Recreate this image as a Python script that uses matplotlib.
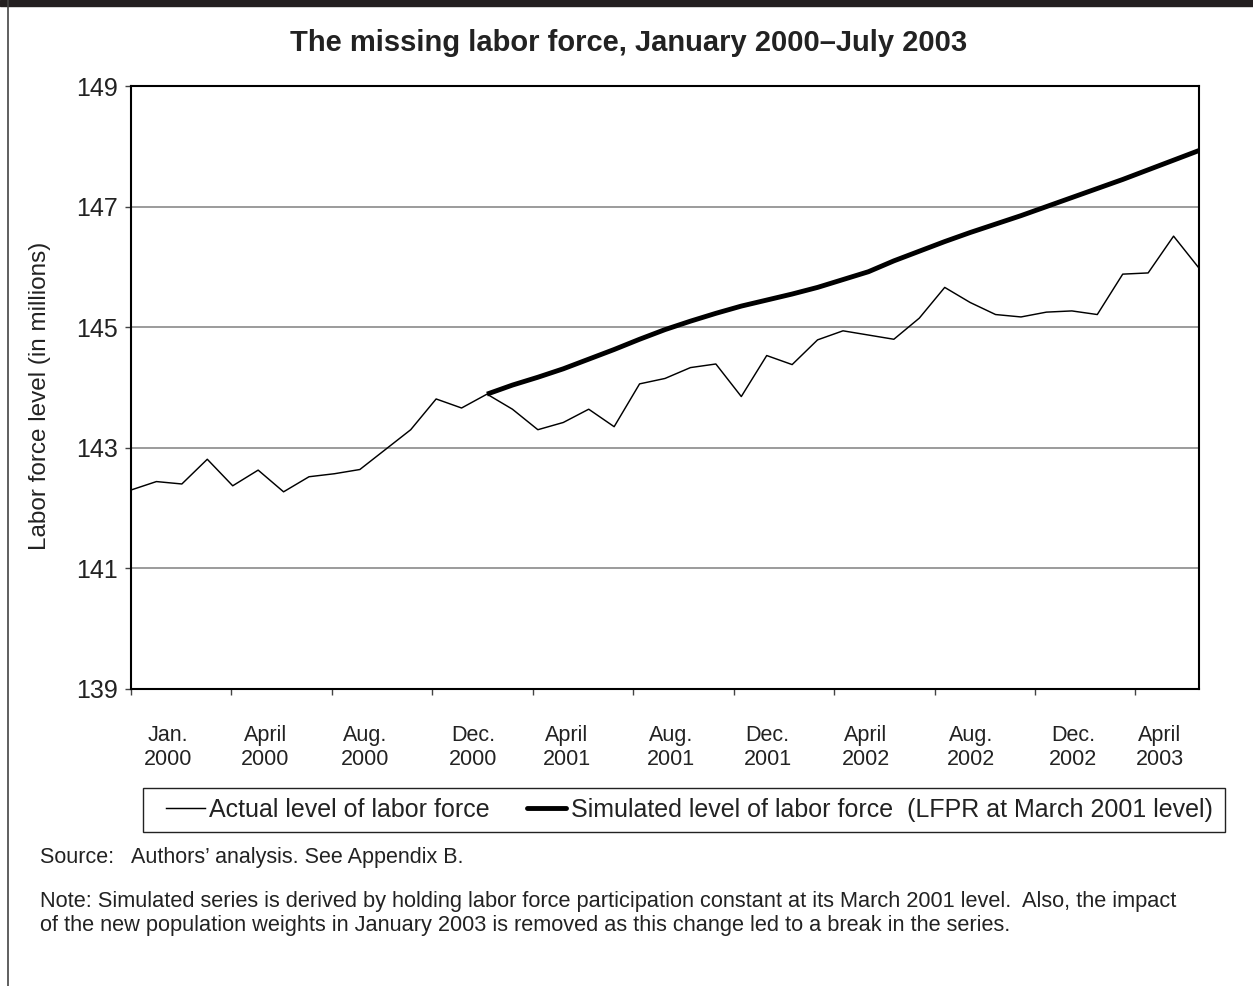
import matplotlib
matplotlib.use("Agg")
import matplotlib.pyplot as plt
from matplotlib.lines import Line2D
import numpy as np
import pandas as pd

plt.rcParams['font.family'] = ['Liberation Sans', 'DejaVu Sans']

# ---- data ----
months = pd.date_range('2000-01-01', periods=43, freq='MS')
actual = [142.30, 142.44, 142.40, 142.81, 142.37, 142.63, 142.27, 142.52, 142.57, 142.64,
          142.97, 143.30, 143.81, 143.66, 143.89, 143.64, 143.30, 143.42, 143.64, 143.35,
          144.06, 144.15, 144.33, 144.39, 143.85, 144.53, 144.38, 144.79, 144.94, 144.87,
          144.80, 145.15, 145.66, 145.41, 145.21, 145.17, 145.25, 145.27, 145.21, 145.88,
          145.90, 146.51, 145.98]
# simulated series starts March 2001 (index 14)
sim_start = 14
simulated = [143.89, 144.04, 144.17, 144.31, 144.47, 144.63, 144.80, 144.96, 145.10, 145.23,
             145.35, 145.45, 145.55, 145.66, 145.79, 145.92, 146.10, 146.26, 146.42, 146.57,
             146.71, 146.85, 147.00, 147.15, 147.30, 147.45, 147.61, 147.77, 147.93]
tick_labels = ['Jan.\n2000', 'April\n2000', 'Aug.\n2000', 'Dec.\n2000', 'April\n2001',
               'Aug.\n2001', 'Dec.\n2001', 'April\n2002', 'Aug.\n2002', 'Dec.\n2002',
               'April\n2003']
y_ticks = [139, 141, 143, 145, 147, 149]
legend_labels = ['Actual level of labor force',
                 'Simulated level of labor force  (LFPR at March 2001 level)']

# ---- layout positions ----
label_pos = [1.45, 5.29, 9.20, 13.47, 17.13, 21.23, 25.04, 28.90, 33.03, 37.06, 40.45]
tick_pos = np.arange(11) * 3.95

W, H = 1253, 986
TXT = '#222222'
fig = plt.figure(figsize=(W / 100, H / 100), dpi=100)
ax = fig.add_axes([131 / W, 1 - 689 / H, (1199 - 131) / W, (689 - 86) / H])

x = np.arange(len(actual))
xs = np.arange(sim_start, sim_start + len(simulated))
ax.plot(x, actual, color='black', lw=1.05, zorder=3)
ax.plot(xs, simulated, color='black', lw=3.5, solid_capstyle='butt', zorder=4)

ax.set_xlim(0, 42)
ax.set_ylim(139, 149)
ax.set_yticks(y_ticks)
ax.set_yticklabels([str(v) for v in y_ticks], fontsize=18, color=TXT)
ax.yaxis.grid(True, color='#808080', lw=1.1)
ax.set_axisbelow(True)

ax.set_xticks(tick_pos)
ax.set_xticklabels([])
ax.set_xticks(label_pos, minor=True)
ax.set_xticklabels(tick_labels, minor=True, fontsize=15.5, color=TXT, linespacing=1.2)
ax.tick_params(axis='x', which='minor', length=0, pad=26)
ax.tick_params(axis='x', which='major', length=4.5, width=1, color='#444444', direction='out')
ax.tick_params(axis='y', length=4.3, width=1, color='#444444', direction='out', pad=5)

for s in ax.spines.values():
    s.set_color('black')
    s.set_linewidth(1.5)

fig.text(629 / W, 1 - 43 / H, 'The missing labor force, January 2000\u2013July 2003',
         ha='center', va='center', fontsize=21, fontweight='bold', color=TXT)
fig.text(40 / W, 1 - 396 / H, 'Labor force level (in millions)', rotation=90,
         ha='center', va='center', fontsize=17.5, color=TXT)

# legend: frame drawn separately for exact placement
fig.patches.append(plt.Rectangle((143 / W, 1 - 832 / H), (1225 - 143) / W, 44 / H,
                                 transform=fig.transFigure, fill=False,
                                 edgecolor='#222222', lw=1.0, zorder=1))
handles = [Line2D([], [], color='black', lw=1.05),
           Line2D([], [], color='black', lw=3.5, solid_capstyle='round')]
leg = fig.legend(handles, legend_labels,
                 loc='center left', bbox_to_anchor=(166 / W, 1 - 810 / H),
                 ncol=2, fontsize=18, frameon=False,
                 handlelength=1.55, handletextpad=0.18, columnspacing=1.5,
                 borderpad=0, borderaxespad=0)
for t in leg.get_texts():
    t.set_color(TXT)

fig.text(40 / W, 1 - 857 / H, 'Source:   Authors\u2019 analysis. See Appendix B.',
         ha='left', va='center', fontsize=15.5, color=TXT)
fig.text(40 / W, 1 - 902 / H,
         'Note: Simulated series is derived by holding labor force participation constant at its March 2001 level.  Also, the impact',
         ha='left', va='center', fontsize=15.7, color=TXT)
fig.text(40 / W, 1 - 926 / H,
         'of the new population weights in January 2003 is removed as this change led to a break in the series.',
         ha='left', va='center', fontsize=15.7, color=TXT)

# page decorations: dark top band and left rule
fig.patches.append(plt.Rectangle((0, 1 - 6 / H), 1, 6 / H, transform=fig.transFigure,
                                 color='#231f20', zorder=0))
fig.lines.append(Line2D([7.5 / W, 7.5 / W], [0, 1], transform=fig.transFigure,
                        color='#444444', lw=1.2))

fig.savefig('out.png', dpi=100, facecolor='white')
